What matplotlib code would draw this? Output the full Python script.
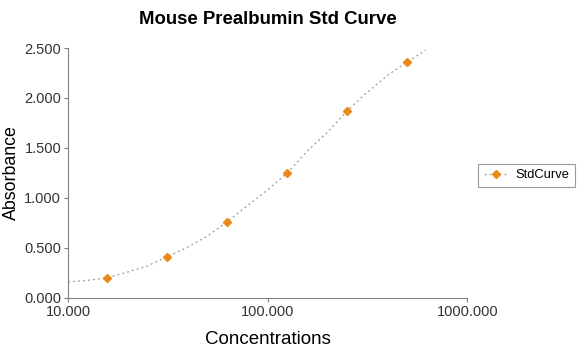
import matplotlib.pyplot as plt
from matplotlib.ticker import FixedLocator, NullLocator
from matplotlib.lines import Line2D

plt.rcParams['font.family'] = ['Liberation Sans', 'DejaVu Sans']

# standard points
conc = [15.625, 31.25, 62.5, 125, 250, 500]
absorb = [0.20, 0.41, 0.76, 1.25, 1.87, 2.36]

# fitted curve
curve_x = [10, 12.5, 15.6, 20, 25, 31.25, 40, 50, 62.5, 80, 100, 125,
           160, 200, 250, 300, 400, 500, 620]
curve_y = [0.16, 0.175, 0.20, 0.26, 0.32, 0.41, 0.51, 0.62, 0.76, 0.93, 1.08, 1.25,
           1.48, 1.66, 1.87, 2.02, 2.23, 2.36, 2.48]

fig = plt.figure(figsize=(5.87, 3.48), dpi=100)
ax = fig.add_axes([0.116, 0.144, 0.68, 0.718])

ax.plot(curve_x, curve_y, linestyle=(0, (1.5, 2.5)), color="#999999", linewidth=0.9)
ax.plot(conc, absorb, linestyle="none", marker="D", markersize=4.5,
        color="#e88a1a", label="StdCurve")

ax.set_xscale("log")
ax.set_xlim(10, 1000)
ax.set_ylim(0, 2.5)
ax.xaxis.set_major_locator(FixedLocator([10, 100, 1000]))
ax.xaxis.set_minor_locator(NullLocator())
ax.set_xticklabels(["10.000", "100.000", "1000.000"])
ax.set_yticks([0, 0.5, 1.0, 1.5, 2.0, 2.5])
ax.set_yticklabels(["0.000", "0.500", "1.000", "1.500", "2.000", "2.500"])

for s in ["top", "right"]:
    ax.spines[s].set_visible(False)
for s in ["left", "bottom"]:
    ax.spines[s].set_color("#808080")
ax.tick_params(colors="#808080", labelcolor="#333333", labelsize=10.5, length=3, pad=2)

ax.set_title("Mouse Prealbumin Std Curve", fontsize=13.4, fontweight="bold", pad=17)
ax.set_xlabel("Concentrations", fontsize=13.5, labelpad=9)
ax.set_ylabel("Absorbance", fontsize=12.8, labelpad=3)

# legend entry: dotted line through the marker
h = Line2D([], [], color="#999999", linestyle=(0, (1.5, 2.5)), linewidth=0.9,
           marker="D", markersize=4.5, markerfacecolor="#e88a1a", markeredgecolor="#e88a1a")
leg = ax.legend([h], ["StdCurve"], loc="center left", bbox_to_anchor=(1.01, 0.49),
                fontsize=9.3, frameon=True, fancybox=False, handlelength=2,
                borderpad=0.45, handletextpad=0.5)
leg.get_frame().set_edgecolor("#808080")
leg.get_frame().set_linewidth(0.8)

fig.savefig("out.png", dpi=100)
